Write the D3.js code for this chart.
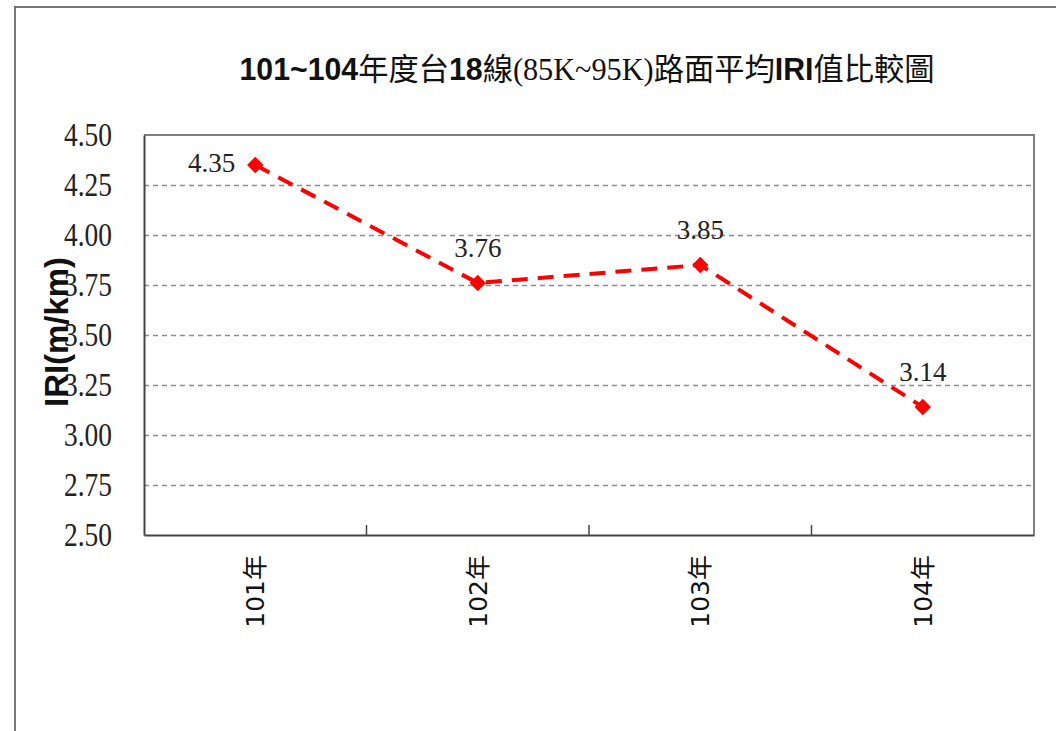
<!DOCTYPE html>
<html>
<head>
<meta charset="utf-8">
<script src="https://cdn.jsdelivr.net/npm/d3@7"></script>
<style>
  body { margin: 0; background: #fff; }
</style>
</head>
<body>
<svg width="1056" height="731"></svg>
<script>
// Chart data
const years = ["101年", "102年", "103年", "104年"];
const iriValues = [4.35, 3.76, 3.85, 3.14];
const yTicks = [2.50, 2.75, 3.00, 3.25, 3.50, 3.75, 4.00, 4.25, 4.50];

const plot = { left: 144, right: 1034, top: 135, bottom: 535 };
const serif = "'Liberation Serif', 'Times New Roman', serif";
const svg = d3.select("svg");

// Outer frame (runs off the right and bottom edges)
svg.append("rect")
    .attr("x", 15)
    .attr("y", 7)
    .attr("width", 1100)
    .attr("height", 800)
    .attr("fill", "#fff")
    .attr("stroke", "#777")
    .attr("stroke-width", 2);

// Scales
const xScale = d3.scaleBand()
                 .domain(years)
                 .range([plot.left, plot.right]);

const yScale = d3.scaleLinear()
                 .domain([2.5, 4.5])
                 .range([plot.bottom, plot.top]);

// Dashed grid lines
const grid = svg.append("g")
    .attr("transform", `translate(${plot.left},0)`)
    .call(d3.axisLeft(yScale)
            .tickValues(yTicks.filter(t => t > 2.5 && t < 4.5))
            .tickSize(-(plot.right - plot.left))
            .tickFormat(""));
grid.select(".domain").remove();
grid.selectAll("line")
    .attr("stroke", "#8c8c8c")
    .attr("stroke-width", 1.5)
    .attr("stroke-dasharray", "5,4");

// Plot-area top and right border
svg.append("path")
    .attr("d", `M${plot.left},${yScale(4.5)}H${plot.right}V${yScale(2.5)}`)
    .attr("fill", "none")
    .attr("stroke", "#808080")
    .attr("stroke-width", 2);

// Y-axis with tick labels
const yAxis = svg.append("g")
    .attr("transform", `translate(${plot.left},0)`)
    .attr("font-family", null)
    .call(d3.axisLeft(yScale)
            .tickValues(yTicks)
            .tickSize(0)
            .tickPadding(32)
            .tickFormat(d3.format(".2f")));
yAxis.select(".domain")
    .attr("stroke", "#444")
    .attr("stroke-width", 2);
yAxis.selectAll("text")
    .style("font-family", serif)
    .style("font-size", "33px")
    .attr("fill", "#222")
    .attr("textLength", 48)
    .attr("lengthAdjust", "spacingAndGlyphs");

// X-axis with rotated category labels
const xAxis = svg.append("g")
    .attr("transform", `translate(0,${plot.bottom})`)
    .call(d3.axisBottom(xScale).tickSize(0).tickSizeOuter(0));
xAxis.select(".domain")
    .attr("stroke", "#444")
    .attr("stroke-width", 2);
xAxis.selectAll("text")
    .style("font-family", "'DejaVu Sans', 'Noto Sans CJK TC', sans-serif")
    .style("font-size", "25px")
    .attr("fill", "#111")
    .attr("transform", "rotate(-90)")
    .attr("text-anchor", "end")
    .attr("x", -20)
    .attr("y", 0)
    .attr("dy", "0.35em");

// Category separator ticks
svg.append("g")
  .selectAll("line")
  .data(years.slice(1))
  .enter()
  .append("line")
    .attr("x1", d => xScale(d))
    .attr("x2", d => xScale(d))
    .attr("y1", plot.bottom)
    .attr("y2", plot.bottom - 10)
    .attr("stroke", "#444")
    .attr("stroke-width", 1.5);

const points = years.map((y, i) => ({ year: y, value: iriValues[i] }));
const cx = d => xScale(d.year) + xScale.bandwidth() / 2;

// Red dashed line
svg.append("path")
    .datum(points)
    .attr("fill", "none")
    .attr("stroke", "#ff0000")
    .attr("stroke-width", 4)
    .attr("stroke-dasharray", "16,10")
    .attr("d", d3.line().x(cx).y(d => yScale(d.value)));

// Diamond markers
svg.append("g")
  .selectAll("path")
  .data(points)
  .enter()
  .append("path")
    .attr("transform", d => `translate(${cx(d)},${yScale(d.value)})`)
    .attr("d", d3.symbol().type(d3.symbolDiamond2).size(170))
    .attr("fill", "#ff0000");

// Data labels: first one left of the point, others above
svg.append("g")
  .selectAll("text")
  .data(points)
  .enter()
  .append("text")
    .text(d => d.value.toFixed(2))
    .attr("x", (d, i) => i === 0 ? cx(d) - 20 : cx(d))
    .attr("y", (d, i) => i === 0 ? yScale(d.value) + 7 : yScale(d.value) - 26)
    .attr("text-anchor", (d, i) => i === 0 ? "end" : "middle")
    .style("font-family", serif)
    .style("font-size", "27px")
    .attr("fill", "#222");

// Chart title, mixing bold Latin, lighter CJK and a serif part
const titleParts = [
  ["101~104", "bold", null],
  ["年度台", "normal", null],
  ["18", "bold", null],
  ["線", "normal", null],
  ["(85K~95K)", "normal", serif],
  ["路面平均", "normal", null],
  ["IRI", "bold", null],
  ["值比較圖", "normal", null]
];
const title = svg.append("text")
    .attr("x", 587)
    .attr("y", 80)
    .attr("text-anchor", "middle")
    .attr("font-family", "'Liberation Sans', 'Noto Sans CJK TC', sans-serif")
    .attr("font-size", 31)
    .attr("fill", "#111")
    .attr("textLength", 695)
    .attr("lengthAdjust", "spacingAndGlyphs");
title.selectAll("tspan")
  .data(titleParts)
  .enter()
  .append("tspan")
    .text(d => d[0])
    .attr("font-weight", d => d[1])
    .attr("font-family", d => d[2]);

// Y-axis label
svg.append("text")
    .text("IRI(m/km)")
    .attr("transform", "translate(68,332) rotate(-90)")
    .attr("text-anchor", "middle")
    .style("font-family", "'Liberation Sans', Arial, sans-serif")
    .style("font-size", "33px")
    .attr("font-weight", "bold")
    .attr("fill", "#111")
    .attr("textLength", 150)
    .attr("lengthAdjust", "spacingAndGlyphs");
</script>
</body>
</html>
